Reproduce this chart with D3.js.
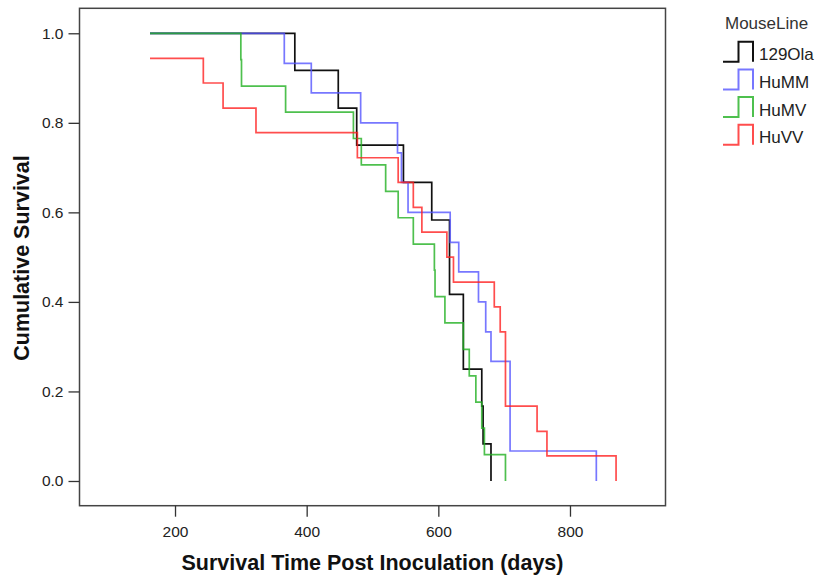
<!DOCTYPE html>
<html>
<head>
<meta charset="utf-8">
<script src="https://cdn.jsdelivr.net/npm/d3@7"></script>
<style>
  html, body { margin: 0; padding: 0; background: #fff; }
  svg { display: block; font-family: "Liberation Sans", Arial, sans-serif; }
</style>
</head>
<body>
<svg id="chart" width="821" height="576"></svg>
<script>
// Kaplan-Meier step curves: time (days) and cumulative survival after each step
const days129Ola = [162, 382, 448, 476, 547, 590, 617, 638, 666, 668, 680];
const surv129Ola = [1.000, 0.917, 0.833, 0.750, 0.667, 0.583, 0.417, 0.250, 0.167, 0.083, 0.000];

const daysHuMM = [162, 366, 407, 482, 538, 544, 554, 618, 631, 661, 672, 680, 709, 840];
const survHuMM = [1.000, 0.933, 0.867, 0.800, 0.733, 0.667, 0.600, 0.533, 0.467, 0.400, 0.333, 0.267, 0.067, 0.000];

const daysHuMV = [162, 300, 301, 368, 471, 483, 520, 539, 562, 594, 595, 610, 638, 647, 657, 666, 670, 702];
const survHuMV = [1.000, 0.941, 0.882, 0.824, 0.765, 0.706, 0.647, 0.588, 0.529, 0.471, 0.412, 0.353, 0.294, 0.235, 0.176, 0.118, 0.059, 0.000];

const daysHuVV = [162, 243, 273, 323, 477, 539, 562, 575, 613, 623, 685, 694, 702, 750, 765, 870];
const survHuVV = [0.944, 0.889, 0.833, 0.778, 0.722, 0.667, 0.611, 0.556, 0.500, 0.444, 0.389, 0.333, 0.167, 0.111, 0.056, 0.000];

const groupNames = ["129Ola", "HuMM", "HuMV", "HuVV"];
const groupColors = ["#111111", "#5555ff", "#22b022", "#ff2020"];
const groupOpacity = [1, 0.8, 0.8, 0.8];

const xTicks = [200, 400, 600, 800];
const yTicks = [0.0, 0.2, 0.4, 0.6, 0.8, 1.0];

const groups = [
  { days: days129Ola, surv: surv129Ola },
  { days: daysHuMM, surv: survHuMM },
  { days: daysHuMV, surv: survHuMV },
  { days: daysHuVV, surv: survHuVV }
];

const svg = d3.select("#chart");

const frame = { left: 79.5, right: 665.5, top: 8.3, bottom: 505.7 };

const x = d3.scaleLinear().domain([54.9, 945.1]).range([frame.left, frame.right]);
const y = d3.scaleLinear().domain([-0.0552, 1.0558]).range([frame.bottom, frame.top]);

// plot frame
svg.append("rect")
  .attr("x", frame.left).attr("y", frame.top)
  .attr("width", frame.right - frame.left)
  .attr("height", frame.bottom - frame.top)
  .attr("fill", "#fff")
  .attr("stroke", "#444")
  .attr("stroke-width", 1.5);

// y axis
const yAxis = d3.axisLeft(y).tickValues(yTicks).tickFormat(d3.format(".1f")).tickSize(11).tickPadding(5);
const gy = svg.append("g").attr("transform", `translate(${frame.left},0)`).call(yAxis);
gy.select(".domain").remove();
gy.selectAll(".tick line").attr("stroke", "#333").attr("stroke-width", 1.3);
gy.selectAll(".tick text").attr("fill", "#222").style("font-size", "15.5px")
  .style("font-family", "'Liberation Sans', Arial, sans-serif");

// x axis
const xAxis = d3.axisBottom(x).tickValues(xTicks).tickFormat(d3.format("d")).tickSize(11).tickPadding(9);
const gx = svg.append("g").attr("transform", `translate(0,${frame.bottom})`).call(xAxis);
gx.select(".domain").remove();
gx.selectAll(".tick line").attr("stroke", "#333").attr("stroke-width", 1.3);
gx.selectAll(".tick text").attr("fill", "#222").style("font-size", "15.5px")
  .style("font-family", "'Liberation Sans', Arial, sans-serif");

// axis titles
svg.append("text")
  .attr("x", 372.5).attr("y", 570)
  .attr("text-anchor", "middle")
  .attr("font-weight", "bold").attr("font-size", 21.5).attr("fill", "#111")
  .text("Survival Time Post Inoculation (days)");

svg.append("text")
  .attr("transform", "translate(28.5,258) rotate(-90)")
  .attr("text-anchor", "middle")
  .attr("font-weight", "bold").attr("font-size", 21.5).attr("fill", "#111")
  .text("Cumulative Survival");

// survival step curves
const line = d3.line()
  .x(d => x(d[0]))
  .y(d => y(d[1]))
  .curve(d3.curveStepAfter);

svg.append("g").selectAll("path")
  .data(groups)
  .join("path")
  .attr("d", g => line(d3.zip(g.days, g.surv)))
  .attr("fill", "none")
  .attr("stroke", (g, i) => groupColors[i])
  .attr("stroke-opacity", (g, i) => groupOpacity[i])
  .attr("stroke-width", 1.7)
  .attr("stroke-linejoin", "miter");

// legend
const legend = svg.append("g").attr("transform", "translate(723,0)");
legend.append("text")
  .attr("x", 2).attr("y", 29)
  .attr("font-size", 17).attr("fill", "#333")
  .text("MouseLine");

const item = legend.selectAll("g.item")
  .data(groupNames)
  .join("g")
  .attr("class", "item")
  .attr("transform", (d, i) => `translate(0,${61.7 + i * 27.7})`);

item.append("path")
  .attr("d", "M0,0H15.5V-20H30V0")
  .attr("fill", "none")
  .attr("stroke", (d, i) => groupColors[i])
  .attr("stroke-opacity", (d, i) => groupOpacity[i])
  .attr("stroke-width", 2);

item.append("text")
  .attr("x", 36).attr("y", -1.5)
  .attr("font-size", 17).attr("fill", "#222")
  .text(d => d);
</script>
</body>
</html>
